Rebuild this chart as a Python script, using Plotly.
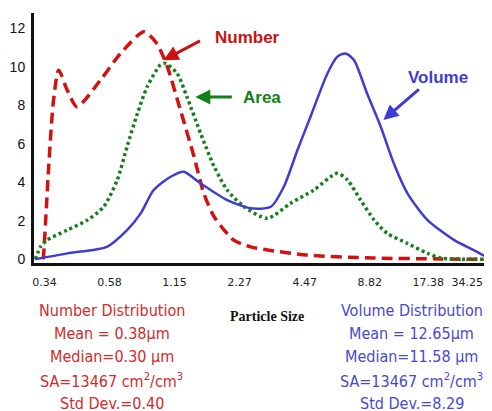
import plotly.graph_objects as go

# Tick labels (particle size) and their positions on the index-like axis
size_labels = ["0.34", "0.58", "1.15", "2.27", "4.47", "8.82", "17.38", "34.25"]
size_pos = [0, 1, 2, 3, 4, 5, 5.9, 6.5]

# Number distribution (red dashed)
num_x = [-0.02, -0.01, 0.066, 0.14, 0.22, 0.35, 0.50, 0.86, 1.17, 1.53, 1.73, 1.89, 2.09,
         2.30, 2.45, 2.61, 2.91, 3.17, 3.5, 4.04, 5.06, 6.1, 6.88]
num_y = [0, 0.33, 4.81, 8.27, 9.83, 8.8, 7.93, 9.31, 10.7, 11.82, 11.2, 10.0, 7.76,
         5.33, 3.43, 2.21, 1.0, 0.65, 0.45, 0.22, 0.07, 0.02, 0]

# Area distribution (green dotted)
area_x = [-0.14, -0.06, 0.04, 0.35, 0.66, 0.91, 1.12, 1.27, 1.43, 1.58, 1.78, 1.86, 2.04,
          2.19, 2.40, 2.61, 2.81, 3.07, 3.43, 3.78, 4.14, 4.50, 4.66, 4.86, 5.07, 5.27,
          5.58, 5.89, 6.09, 6.88]
area_y = [0, 0.65, 1.0, 1.52, 2.04, 2.73, 4.12, 5.85, 7.58, 8.97, 10.09, 10.18, 9.66,
          8.45, 6.55, 4.81, 3.6, 2.73, 2.13, 2.91, 3.6, 4.47, 4.12, 3.08, 2.04, 1.35,
          0.83, 0.31, 0.07, 0]

# Volume distribution (blue solid)
vol_x = [-0.14, 0.35, 0.96, 1.27, 1.48, 1.68, 1.94, 2.14, 2.40, 2.81, 3.17, 3.48, 3.68,
         3.89, 4.09, 4.35, 4.50, 4.63, 4.76, 4.96, 5.17, 5.37, 5.58, 5.89, 6.30, 6.60, 6.86]
vol_y = [0, 0.31, 0.65, 1.52, 2.39, 3.6, 4.29, 4.55, 3.95, 3.08, 2.65, 2.73, 3.77,
         5.68, 7.41, 9.66, 10.52, 10.7, 10.35, 8.62, 6.89, 4.99, 3.43, 2.04, 1.0, 0.48, 0]

number_stats = ["Number Distribution", "Mean = 0.38\u03bcm", "Median=0.30 \u03bcm",
                "SA=13467 cm<sup>2</sup>/cm<sup>3</sup>", "Std Dev.=0.40"]
volume_stats = ["Volume Distribution", "Mean = 12.65\u03bcm", "Median=11.58 \u03bcm",
                "SA=13467 cm<sup>2</sup>/cm<sup>3</sup>", "Std Dev.=8.29"]

RED = "#d41010"
GREEN = "#13801a"
BLUE = "#3d3dd4"
RED_TXT = "#d42a2a"
BLUE_TXT = "#4848d0"

fig = go.Figure()
fig.add_trace(go.Scatter(x=num_x, y=num_y, mode="lines",
                         line=dict(color=RED, width=3.5, dash="11px,6px", shape="spline", smoothing=0.7)))
fig.add_trace(go.Scatter(x=area_x, y=area_y, mode="lines",
                         line=dict(color=GREEN, width=3.5, dash="3px,3px", shape="spline", smoothing=0.7)))
fig.add_trace(go.Scatter(x=vol_x, y=vol_y, mode="lines",
                         line=dict(color=BLUE, width=2.5, shape="spline", smoothing=0.7)))

ann = []
lab_font = "Liberation Sans"
ann.append(dict(x=3.12, y=11.54, text="<b>Number</b>", showarrow=False, xanchor="center", yanchor="middle",
                font=dict(family=lab_font, size=17, color="#cc1111")))
ann.append(dict(x=3.35, y=8.43, text="<b>Area</b>", showarrow=False, xanchor="center", yanchor="middle",
                font=dict(family=lab_font, size=17, color=GREEN)))
ann.append(dict(x=6.05, y=9.47, text="<b>Volume</b>", showarrow=False, xanchor="center", yanchor="middle",
                font=dict(family=lab_font, size=17, color=BLUE)))
ann.append(dict(x=1.83, y=10.35, ax=38, ay=-20, text="", showarrow=True,
                arrowhead=2, arrowsize=1, arrowwidth=3, arrowcolor="#cc1111"))
ann.append(dict(x=2.32, y=8.43, ax=38, ay=0, text="", showarrow=True,
                arrowhead=2, arrowsize=1, arrowwidth=3, arrowcolor=GREEN))
ann.append(dict(x=5.21, y=7.24, ax=37, ay=-32, text="", showarrow=True,
                arrowhead=2, arrowsize=1, arrowwidth=3, arrowcolor=BLUE))

ann.append(dict(xref="paper", yref="paper", x=0.508, y=(263 - 316) / 250, text="<b>Particle Size</b>",
                showarrow=False, xanchor="center", yanchor="middle",
                font=dict(family="Liberation Serif", size=14, color="#111")))

stat_font = "DejaVu Sans Condensed, Liberation Sans, sans-serif"
line_px = [310, 333, 356, 380, 403]
for i, (a, b) in enumerate(zip(number_stats, volume_stats)):
    yp = (263 - line_px[i]) / 250
    ann.append(dict(xref="paper", yref="paper", x=0.170, y=yp, text=a, showarrow=False,
                    xanchor="center", yanchor="middle",
                    font=dict(family=stat_font, size=16, color=RED_TXT)))
    ann.append(dict(xref="paper", yref="paper", x=0.825, y=yp, text=b, showarrow=False,
                    xanchor="center", yanchor="middle",
                    font=dict(family=stat_font, size=16, color=BLUE_TXT)))

# the page adds an 8px body margin, so the figure is 8px smaller on each axis
fig.update_layout(
    width=484, height=403,
    margin=dict(l=26, r=0, t=5, b=148, autoexpand=False),
    paper_bgcolor="white", plot_bgcolor="white",
    showlegend=False,
    annotations=ann,
    xaxis=dict(range=[-0.16, 6.88], tickvals=size_pos, ticktext=size_labels, automargin=False,
               showgrid=False, zeroline=False, showline=True, linecolor="#111", linewidth=3,
               ticks="outside", ticklen=7, tickcolor="rgba(0,0,0,0)",
               tickfont=dict(family="DejaVu Sans", size=11, color="#222")),
    yaxis=dict(range=[-0.19, 12.8], tickvals=[0, 2, 4, 6, 8, 10, 12], automargin=False,
               showgrid=False, zeroline=False, showline=True, linecolor="#111", linewidth=3,
               ticks="outside", ticklen=3, tickcolor="rgba(0,0,0,0)",
               tickfont=dict(family="Liberation Sans", size=14, color="#111"),
               tickprefix="<b>", ticksuffix="</b>"),
)

fig.write_html("out.html")
